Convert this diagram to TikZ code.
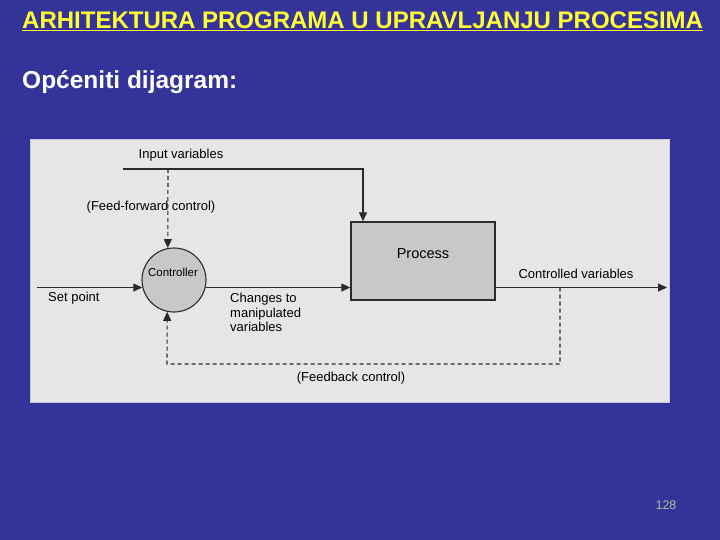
\documentclass[tikz,border=0pt]{standalone}
\usepackage{fontspec}
\setmainfont{Liberation Sans}
\usetikzlibrary{arrows.meta,positioning,calc}
\definecolor{slidebg}{HTML}{333399}
\definecolor{titleyellow}{HTML}{FFFF33}
\definecolor{panelbg}{HTML}{E6E6E6}
\definecolor{paneledge}{HTML}{C9C9DD}
\definecolor{blockgray}{HTML}{C8C8C8}
\definecolor{linedark}{HTML}{2A2A2A}
\definecolor{pagenum}{HTML}{B4BC9C}

\tikzset{
  flow/.style={draw=linedark,line width=1.1pt,-{Triangle[length=9pt,width=8pt]}},
  ctrldash/.style={draw=linedark,line width=1.1pt,dash pattern=on 4pt off 3pt,-{Triangle[length=9pt,width=8pt]}},
  lbl/.style={font=\fontsize{13}{14.5}\selectfont,text=black,inner sep=0pt}
}

\begin{document}
\begin{tikzpicture}[x=1pt,y=-1pt]
  % slide
  \fill[slidebg] (0,0) rectangle (720,540);
  \node[anchor=base west,inner sep=0pt,text=titleyellow,font=\fontsize{24}{27}\selectfont\bfseries] (title) at (22,29)
    {\underline{ARHITEKTURA PROGRAMA U UPRAVLJANJU PROCESIMA}};
  \node[anchor=base west,inner sep=0pt,text=white,font=\fontsize{24.5}{27}\selectfont\bfseries] (subtitle) at (22,89)
    {Općeniti dijagram:};
  \node[anchor=base,inner sep=0pt,text=pagenum,font=\fontsize{12.5}{14}\selectfont] (pagenr) at (666,509) {128};

  % diagram panel
  \filldraw[fill=panelbg,draw=paneledge,line width=0.8pt] (30,139) rectangle (669,402);

  \node[draw=linedark,fill=blockgray,line width=1.4pt,minimum width=144pt,minimum height=78pt,inner sep=0pt] (process) at (423,261) {};
  \node[lbl,font=\fontsize{14.5}{16}\selectfont] (proctext) at (423,254) {Process};
  \node[circle,draw=linedark,fill=blockgray,line width=1.1pt,minimum size=64pt,inner sep=0pt] (ctrl) at (174,280) {};
  \node[lbl,font=\fontsize{11.5}{13}\selectfont] (ctrltext) at (173,272) {Controller};

  \coordinate (inpstart) at (123,169);
  \coordinate (inpcorner) at (363,169);
  \coordinate (ffstart) at (168,169);
  \coordinate (spstart) at (37,287.5);
  \coordinate (cvend) at (667,287.5);
  \coordinate (fbtap) at (560,287.5);
  \coordinate (fbcorner) at (560,364);
  \coordinate (fbback) at (167,364);

  % connectors
  \draw[flow] (inpstart) -- (inpcorner) -- (inpcorner |- process.north);
  \draw[ctrldash] (ffstart) -- (ctrl.101);
  \draw[flow] (spstart) -- (spstart -| ctrl.193);
  \draw[flow] (spstart -| ctrl.-13) -- (process.west |- spstart);
  \draw[flow] (process.east |- spstart) -- (cvend);
  \draw[ctrldash] (fbtap) -- (fbcorner) -- (fbback) -- (ctrl.258);

  % labels
  \node[lbl] (inplbl) at (181,155) {Input variables};
  \node[lbl] (fflbl) at (151,207) {(Feed-forward control)};
  \node[lbl,anchor=west] (splbl) at (48,298) {Set point};
  \node[lbl,anchor=north west,align=left] (mvlbl) at (230,293) {Changes to\\manipulated\\variables};
  \node[lbl] (cvlbl) at (576,274) {Controlled variables};
  \node[lbl] (fblbl) at (351,378) {(Feedback control)};
\end{tikzpicture}
\end{document}
